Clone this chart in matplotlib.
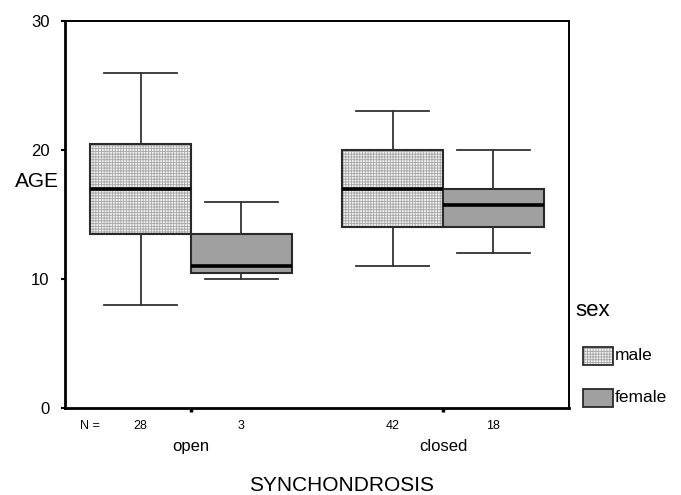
import matplotlib
matplotlib.use('Agg')
import matplotlib.pyplot as plt
from matplotlib.patches import PathPatch, Rectangle
from matplotlib.transforms import blended_transform_factory

plt.rcParams['font.family'] = ['Liberation Sans', 'DejaVu Sans']
plt.rcParams['hatch.linewidth'] = 0.6

# SPSS-style boxplot: AGE by SYNCHONDROSIS, split by sex
groups = ['open', 'closed']
male_lo = [8, 11]
male_q1 = [13.5, 14]
male_med = [17, 17]
male_q3 = [20.5, 20]
male_hi = [26, 23]
male_n = [28, 42]

female_lo = [10, 12]
female_q1 = [10.5, 14]
female_med = [11, 15.7]
female_q3 = [13.5, 17]
female_hi = [16, 20]
female_n = [3, 18]

yticks = [0, 10, 20, 30]

W, H = 681, 495
fig = plt.figure(figsize=(W / 100, H / 100), dpi=100)
ax = fig.add_axes([65 / W, 1 - 408 / H, 504 / W, 387 / H])

centers = [i + 1 for i in range(len(groups))]
off = 0.2
bw = 0.4
female_face = '#a0a0a0'


def stats(lo, q1, med, q3, hi):
    return [dict(whislo=a, q1=b, med=c, q3=d, whishi=e, fliers=[])
            for a, b, c, d, e in zip(lo, q1, med, q3, hi)]


common = dict(widths=bw, capwidths=0.29, patch_artist=True, showfliers=False,
              whiskerprops=dict(color='#333333', lw=1.3),
              capprops=dict(color='#333333', lw=1.3),
              medianprops=dict(color='black', lw=2.6), manage_ticks=False)

m = ax.bxp(stats(male_lo, male_q1, male_med, male_q3, male_hi),
           positions=[c - off for c in centers],
           boxprops=dict(facecolor='none', edgecolor='#2a2a2a', lw=1.5), **common)
for box in m['boxes']:
    ax.add_patch(PathPatch(box.get_path(), facecolor='#f0f0f0', edgecolor='#a8a8a8',
                           hatch='++++++', lw=0, zorder=box.get_zorder() - 0.1))

ax.bxp(stats(female_lo, female_q1, female_med, female_q3, female_hi),
       positions=[c + off for c in centers],
       boxprops=dict(facecolor=female_face, edgecolor='#2a2a2a', lw=1.5), **common)

ax.set_xlim(0.5, 2.5)
ax.set_ylim(0, 30)
ax.set_yticks(yticks)
ax.set_xticks(centers)
ax.set_xticklabels(groups, fontsize=12)
ax.tick_params(axis='y', direction='out', length=3, width=1.5, pad=8, labelsize=12)
ax.tick_params(axis='x', direction='out', length=3, width=2.5, pad=19)

for side, lw in [('left', 2), ('bottom', 2), ('top', 1.4), ('right', 1.4)]:
    ax.spines[side].set_linewidth(lw)
    ax.spines[side].set_color('black')

# case counts under each box
tr = blended_transform_factory(ax.transData, ax.transAxes)
ax.text(0.6, -0.047, 'N =', transform=tr, ha='center', va='center', fontsize=9)
for c, nm, nf in zip(centers, male_n, female_n):
    ax.text(c - off, -0.047, str(nm), transform=tr, ha='center', va='center', fontsize=9)
    ax.text(c + off, -0.047, str(nf), transform=tr, ha='center', va='center', fontsize=9)

ax.set_ylabel('AGE', rotation=0, fontsize=15, ha='center', va='center')
ax.yaxis.set_label_coords(-0.056, 0.584)
ax.set_xlabel('SYNCHONDROSIS', fontsize=15, ha='center', va='center')
ax.xaxis.set_label_coords(0.548, -0.199)

# legend drawn by hand in figure pixels
fig.text(575 / W, 1 - 310 / H, 'sex', fontsize=16, ha='left', va='center')
for y0, face, hatch, label in [(347, '#f0f0f0', '++++++', 'male'),
                               (389, female_face, None, 'female')]:
    xy = (583 / W, 1 - (y0 + 18) / H)
    fig.add_artist(Rectangle(xy, 30 / W, 18 / H, transform=fig.transFigure,
                             facecolor=face, edgecolor='#a8a8a8', hatch=hatch, lw=0))
    fig.add_artist(Rectangle(xy, 30 / W, 18 / H, transform=fig.transFigure,
                             facecolor='none', edgecolor='#2a2a2a', lw=1.3))
    fig.text(615 / W, 1 - (y0 + 9) / H, label, fontsize=12.5, ha='left', va='center')

fig.savefig('out.png', dpi=100)
